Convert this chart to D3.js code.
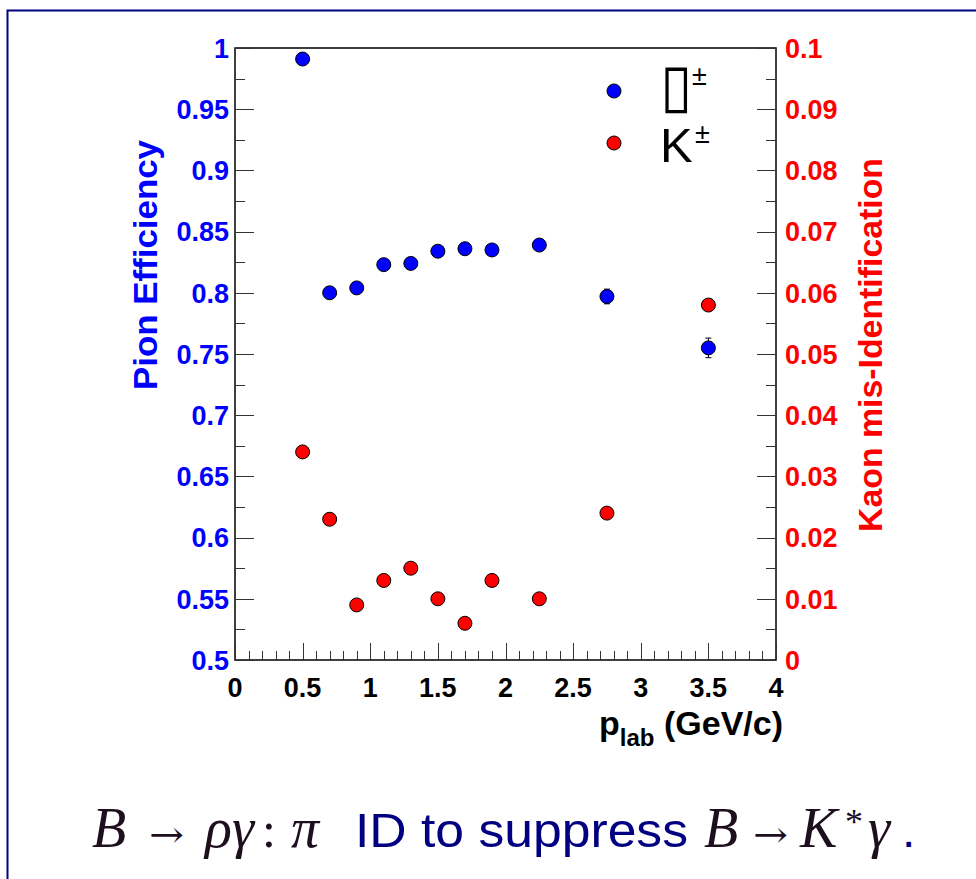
<!DOCTYPE html>
<html>
<head>
<meta charset="utf-8">
<script src="https://cdn.jsdelivr.net/npm/d3@7/dist/d3.min.js"></script>
<style>
  html, body { margin: 0; padding: 0; background: #fff; }
  svg { display: block; }
</style>
</head>
<body>
<svg id="chart" width="976" height="879"></svg>
<script>
// ---------------- data ----------------
const pLab      = [0.5, 0.7, 0.9, 1.1, 1.3, 1.5, 1.7, 1.9, 2.25, 2.75, 3.5];
const pionEff   = [0.991, 0.800, 0.804, 0.823, 0.824, 0.834, 0.836, 0.835, 0.839, 0.797, 0.755];
const pionErr   = [0.002, 0.003, 0.002, 0.002, 0.002, 0.002, 0.002, 0.002, 0.002, 0.006, 0.008];
const kaonMisID = [0.034, 0.023, 0.009, 0.013, 0.015, 0.010, 0.006, 0.013, 0.010, 0.024, 0.058];
const kaonErr   = [0.0005, 0.0005, 0.0004, 0.0004, 0.0004, 0.0004, 0.0003, 0.0004, 0.0004, 0.0006, 0.0008];

const xTicks      = [0, 0.5, 1, 1.5, 2, 2.5, 3, 3.5, 4];
const leftTicks   = [0.5, 0.55, 0.6, 0.65, 0.7, 0.75, 0.8, 0.85, 0.9, 0.95, 1];
const rightTicks  = [0, 0.01, 0.02, 0.03, 0.04, 0.05, 0.06, 0.07, 0.08, 0.09, 0.1];
const leftLabels  = ["0.5","0.55","0.6","0.65","0.7","0.75","0.8","0.85","0.9","0.95","1"];
const rightLabels = ["0","0.01","0.02","0.03","0.04","0.05","0.06","0.07","0.08","0.09","0.1"];
const xLabels     = ["0","0.5","1","1.5","2","2.5","3","3.5","4"];

// ---------------- layout ----------------
const svg = d3.select("#chart");
const X0 = 235, X1 = 776, Y0 = 660, Y1 = 48;
const BLUE = "#0000ff", RED = "#ff0000";
const FONT = "'Liberation Sans', Arial, Helvetica, sans-serif";

const x  = d3.scaleLinear().domain([0, 4]).range([X0, X1]);
const yL = d3.scaleLinear().domain([0.5, 1]).range([Y0, Y1]);
const yR = d3.scaleLinear().domain([0, 0.1]).range([Y0, Y1]);

// outer navy frame (extends beyond the window on right and bottom)
svg.append("rect")
  .attr("x", 7.5).attr("y", 10.5).attr("width", 1000).attr("height", 1000)
  .attr("fill", "none").attr("stroke", "#000080").attr("stroke-width", 2);

// plot frame
svg.append("rect")
  .attr("x", X0).attr("y", Y1).attr("width", X1 - X0).attr("height", Y0 - Y1)
  .attr("fill", "none").attr("stroke", "#000").attr("stroke-width", 1.5);

const tickCol = "#333";

// left axis ticks (inward)
const leftMinor = d3.range(0.5, 1.0001, 0.025);
leftMinor.forEach((v, i) => {
  const major = i % 2 === 0;
  const yy = Math.round(yL(v)) + 0.5;
  svg.append("line").attr("x1", X0).attr("x2", X0 + (major ? 19 : 10))
    .attr("y1", yy).attr("y2", yy).attr("stroke", tickCol).attr("stroke-width", 1);
});
// right axis ticks (inward)
const rightMinor = d3.range(0, 0.10001, 0.005);
rightMinor.forEach((v, i) => {
  const major = i % 2 === 0;
  const yy = Math.round(yR(v)) + 0.5;
  svg.append("line").attr("x1", X1).attr("x2", X1 - (major ? 19 : 10))
    .attr("y1", yy).attr("y2", yy).attr("stroke", tickCol).attr("stroke-width", 1);
});
// x axis ticks (upward)
const xMinor = d3.range(0, 4.0001, 0.1);
xMinor.forEach((v, i) => {
  const major = i % 5 === 0;
  const xx = Math.round(x(v)) + 0.5;
  svg.append("line").attr("x1", xx).attr("x2", xx)
    .attr("y1", Y0).attr("y2", Y0 - (major ? 17 : 9))
    .attr("stroke", tickCol).attr("stroke-width", 1);
});

// tick labels
svg.append("g").selectAll("text").data(leftTicks).join("text")
  .attr("x", 229).attr("y", d => yL(d)).attr("dy", "0.36em")
  .attr("text-anchor", "end").attr("font-family", FONT).attr("font-weight", "bold")
  .attr("font-size", 27).attr("fill", BLUE).text((d, i) => leftLabels[i]);

svg.append("g").selectAll("text").data(rightTicks).join("text")
  .attr("x", 785).attr("y", d => yR(d)).attr("dy", "0.36em")
  .attr("text-anchor", "start").attr("font-family", FONT).attr("font-weight", "bold")
  .attr("font-size", 27).attr("fill", RED).text((d, i) => rightLabels[i]);

svg.append("g").selectAll("text").data(xTicks).join("text")
  .attr("x", d => x(d)).attr("y", 697)
  .attr("text-anchor", "middle").attr("font-family", FONT).attr("font-weight", "bold")
  .attr("font-size", 27).attr("fill", "#000").text((d, i) => xLabels[i]);

// axis titles
svg.append("text")
  .attr("transform", "translate(157,265) rotate(-90)")
  .attr("text-anchor", "middle").attr("font-family", FONT).attr("font-weight", "bold")
  .attr("font-size", 33).attr("fill", BLUE)
  .attr("textLength", 250).attr("lengthAdjust", "spacingAndGlyphs")
  .text("Pion Efficiency");

svg.append("text")
  .attr("transform", "translate(882,345) rotate(-90)")
  .attr("text-anchor", "middle").attr("font-family", FONT).attr("font-weight", "bold")
  .attr("font-size", 33).attr("fill", RED)
  .attr("textLength", 374).attr("lengthAdjust", "spacingAndGlyphs")
  .text("Kaon mis-Identification");

const xt = svg.append("text")
  .attr("x", 783).attr("y", 735).attr("text-anchor", "end")
  .attr("font-family", FONT).attr("font-weight", "bold").attr("font-size", 34).attr("fill", "#000");
xt.append("tspan").text("p");
xt.append("tspan").attr("font-size", 24).attr("dy", 11).text("lab");
xt.append("tspan").attr("dy", -11).text(" (GeV/c)");

// data: error bars + markers
function drawSeries(vals, errs, ys, color) {
  const g = svg.append("g");
  pLab.forEach((p, i) => {
    const cx = x(p), top = ys(vals[i] + errs[i]), bot = ys(vals[i] - errs[i]);
    g.append("line").attr("x1", cx).attr("x2", cx).attr("y1", top).attr("y2", bot)
      .attr("stroke", "#000").attr("stroke-width", 1);
    [top, bot].forEach(yy => g.append("line")
      .attr("x1", cx - 3).attr("x2", cx + 3).attr("y1", yy).attr("y2", yy)
      .attr("stroke", "#000").attr("stroke-width", 1));
  });
  g.selectAll("circle").data(vals).join("circle")
    .attr("cx", (d, i) => x(pLab[i])).attr("cy", d => ys(d)).attr("r", 7)
    .attr("fill", color).attr("stroke", "#000").attr("stroke-width", 1);
}
drawSeries(pionEff, pionErr, yL, BLUE);
drawSeries(kaonMisID, kaonErr, yR, RED);

// legend
svg.append("circle").attr("cx", 614).attr("cy", 91).attr("r", 7)
  .attr("fill", BLUE).attr("stroke", "#000").attr("stroke-width", 1);
svg.append("circle").attr("cx", 614).attr("cy", 143).attr("r", 7)
  .attr("fill", RED).attr("stroke", "#000").attr("stroke-width", 1);

svg.append("text").attr("x", 660).attr("y", 106)
  .attr("font-family", "'DejaVu Sans', sans-serif").attr("font-size", 60).attr("fill", "#000")
  .attr("textLength", 32).attr("lengthAdjust", "spacingAndGlyphs")
  .text("\u25AF");
svg.append("text").attr("x", 692).attr("y", 85)
  .attr("font-family", FONT).attr("font-size", 27).attr("fill", "#000").text("\u00B1");

svg.append("text").attr("x", 660).attr("y", 162)
  .attr("font-family", FONT).attr("font-size", 49).attr("fill", "#000").text("K");
svg.append("text").attr("x", 695).attr("y", 143)
  .attr("font-family", FONT).attr("font-size", 27).attr("fill", "#000").text("\u00B1");

// caption
const MATH = "#1e0f1e", NAVY = "#000080";
const SERIF = "'Liberation Serif', 'DejaVu Serif', serif";
const cap = svg.append("g").attr("font-size", 48);
function piece(txt, xpos, opts) {
  const t = cap.append("text").attr("x", xpos).attr("y", 847)
    .attr("font-family", opts.family).attr("fill", opts.color)
    .attr("font-style", opts.italic ? "italic" : "normal")
    .text(txt);
  if (opts.size) t.attr("font-size", opts.size);
  if (opts.len) t.attr("textLength", opts.len).attr("lengthAdjust", "spacingAndGlyphs");
  return t;
}
piece("B", 92, {family: SERIF, color: MATH, italic: true, size: 56});
piece("\u2192", 149, {family: "'DejaVu Serif', serif", color: MATH, size: 36, len: 35});
piece("\u03C1\u03B3", 205, {family: SERIF, color: MATH, italic: true, size: 56});
piece(":", 262, {family: SERIF, color: MATH, size: 50});
piece("\u03C0", 291, {family: SERIF, color: MATH, italic: true, size: 56});
piece("ID to suppress", 355, {family: FONT, color: NAVY, size: 48, len: 333});
piece("B", 704, {family: SERIF, color: MATH, italic: true, size: 56});
piece("\u2192", 753, {family: "'DejaVu Serif', serif", color: MATH, size: 36, len: 35});
piece("K", 800, {family: SERIF, color: MATH, italic: true, size: 56});
piece("*", 845, {family: SERIF, color: MATH, size: 36}).attr("y", 834);
piece("\u03B3", 868, {family: SERIF, color: MATH, italic: true, size: 56});
piece(".", 902, {family: FONT, color: NAVY, size: 48});
</script>
</body>
</html>
